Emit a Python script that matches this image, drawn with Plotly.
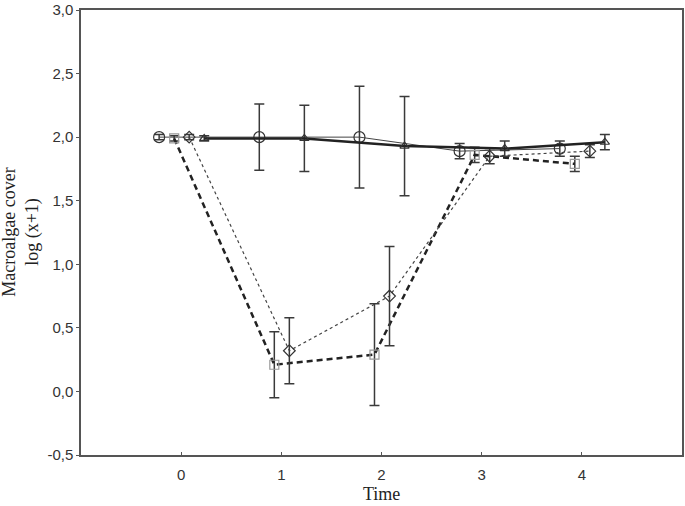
import plotly.graph_objects as go

times = [0, 1, 2, 3, 4]

circle_mean = [2.00, 2.00, 2.00, 1.89, 1.91]
circle_err = [0.02, 0.26, 0.40, 0.06, 0.06]

square_mean = [1.99, 0.21, 0.29, 1.86, 1.79]
square_err = [0.02, 0.26, 0.40, 0.06, 0.06]

diamond_mean = [2.00, 0.32, 0.75, 1.85, 1.89]
diamond_err = [0.02, 0.26, 0.39, 0.06, 0.05]

triangle_mean = [1.99, 1.99, 1.93, 1.91, 1.96]
triangle_err = [0.02, 0.26, 0.39, 0.06, 0.06]

y_ticks = [-0.5, 0.0, 0.5, 1.0, 1.5, 2.0, 2.5, 3.0]
y_tick_labels = ["-0,5", "0,0", "0,5", "1,0", "1,5", "2,0", "2,5", "3,0"]
x_ticks = [0, 1, 2, 3, 4]

SERIF = '"Liberation Serif", "Times New Roman", Times, serif'
SANS = '"Liberation Sans", Arial, Helvetica, sans-serif'

series = [
    dict(y=circle_mean, e=circle_err, off=-0.22, sym="circle-open", msize=11,
         mcol="#333333", lcol="#444444", lw=1.0, dash="solid"),
    dict(y=square_mean, e=square_err, off=-0.07, sym="square-open", msize=9,
         mcol="#999999", lcol="#222222", lw=2.5, dash="6px,4px"),
    dict(y=diamond_mean, e=diamond_err, off=0.08, sym="diamond-open", msize=9,
         mcol="#333333", lcol="#444444", lw=1.2, dash="3px,3px"),
    dict(y=triangle_mean, e=triangle_err, off=0.23, sym="triangle-up-open", msize=8,
         mcol="#333333", lcol="#222222", lw=2.5, dash="solid"),
]

fig = go.Figure()
for s in series:
    fig.add_trace(go.Scatter(
        x=[t + s["off"] for t in times], y=s["y"],
        mode="lines+markers",
        line=dict(color=s["lcol"], width=s["lw"], dash=s["dash"]),
        marker=dict(symbol=s["sym"], size=s["msize"], color=s["mcol"],
                    line=dict(width=1.2, color=s["mcol"])),
        error_y=dict(type="data", array=s["e"], visible=True, color="#3a3a3a",
                     thickness=1.5, width=5),
        showlegend=False,
    ))

fig.update_layout(
    width=685, height=506,
    margin=dict(l=81, r=1, t=5, b=51),
    paper_bgcolor="white", plot_bgcolor="white",
    font=dict(family=SANS, size=15, color="#333333"),
    xaxis=dict(range=[-1, 5], tickvals=x_ticks, ticks="inside", ticklen=3,
               tickcolor="#555555", showgrid=False, zeroline=False,
               ticklabelstandoff=5,
               showline=True, mirror=True, linecolor="#555555", linewidth=1.5),
    yaxis=dict(range=[-0.5, 3.0], tickvals=y_ticks, ticktext=y_tick_labels,
               ticks="outside", ticklen=3, tickcolor="#555555",
               ticklabeloverflow="allow",
               showgrid=False, zeroline=False,
               showline=True, mirror=True, linecolor="#555555", linewidth=1.5),
    annotations=[
        dict(text="Macroalgae cover<br>log (x+1)", xref="paper", yref="paper",
             x=(20 - 81) / 603, y=(455 - 230) / 450, textangle=-90,
             showarrow=False, xanchor="center", yanchor="middle",
             font=dict(family=SERIF, size=18, color="#222222")),
        dict(text="Time", xref="paper", yref="paper",
             x=(382 - 81) / 603, y=-(494 - 455) / 450, showarrow=False,
             xanchor="center", yanchor="middle",
             font=dict(family=SERIF, size=18, color="#222222")),
    ],
)

fig.write_html("out.html", config={"displayModeBar": False},
               post_script="document.body.style.margin='0';document.body.style.overflow='hidden';")
